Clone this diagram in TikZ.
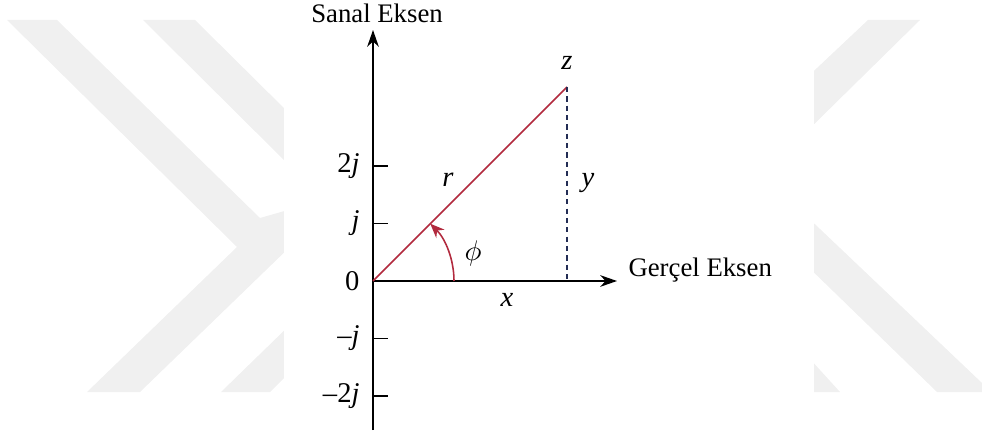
\documentclass[tikz,border=0pt]{standalone}
\usepackage{fontspec}
\setmainfont{Liberation Serif}
\usetikzlibrary{arrows.meta}
\definecolor{vecred}{RGB}{178,42,62}
\definecolor{dashblue}{RGB}{35,45,85}
\definecolor{markgray}{RGB}{240,240,240}
\tikzset{
    axis_line/.style = {
        draw=black,
        line width=0.6pt
    },
    axis_arrow/.style = {
        axis_line,
        -{Stealth[length=6.5pt,width=4.5pt]}
    },
    vector_line/.style = {
        draw=vecred,
        line width=0.6pt
    },
    angle_line/.style = {
        draw=vecred,
        line width=0.6pt,
        -{Stealth[length=5.5pt,width=4.5pt]}
    },
    dash_line/.style = {
        draw=dashblue,
        line width=0.45pt,
        dash pattern=on 2pt off 1.6pt
    },
    tick_line/.style = {
        draw=black,
        line width=0.6pt
    },
    mark_band/.style = {
        fill=markgray,
        draw=none
    },
    axis_label/.style = {
        font=\fontsize{10.3}{12}\selectfont,
        inner sep=0pt
    },
    tick_label/.style = {
        font=\fontsize{11}{13}\selectfont,
        anchor=east,
        inner sep=0pt
    },
}

\begin{document}
\begin{tikzpicture}[x=0.385pt, y=0.385pt]
                \useasboundingbox (0,0) rectangle (982,436);
                % watermark
                \begin{scope}
                    \path[mark_band] (7,416) -- (57,416) -- (260,218) -- (295,228) -- (295,194) -- (140,44) -- (87,44) -- (237,189) -- cycle;
                    \path[mark_band] (143,416) -- (195,416) -- (295,317) -- (295,265) -- cycle;
                    \path[mark_band] (221,44) -- (270,44) -- (295,69) -- (295,116) -- cycle;
                    \path[mark_band] (868,416) -- (920,416) -- (800,298) -- (800,352) -- cycle;
                    \path[mark_band] (800,226) -- (982,53) -- (982,44) -- (937,44) -- (800,177) -- cycle;
                    \path[mark_band] (800,88) -- (840,44) -- (800,44) -- cycle;
                    \fill[white] (284,0) rectangle (814,436);
                \end{scope}

                \coordinate (O) at (373,155);
                \coordinate (im_top) at (373,406);
                \coordinate (im_bot) at (373,6);
                \coordinate (re_end) at (617,155);
                \coordinate (z) at (567,349);
                \coordinate (zx) at (567,155);
                \coordinate (arc_start) at (454,155);

                \draw[axis_arrow] (im_bot) -- (im_top);
                \draw[axis_arrow] (O) -- (re_end);

                \foreach \name/\k/\lab in {tp2/2/2\textit{j}, tp1/1/\textit{j}, tm1/-1/\textendash\textit{j}, tm2/-2/\textendash2\textit{j}} {
                    \draw[tick_line] (373,155+57.5*\k) -- (388,155+57.5*\k);
                    \node[tick_label] (\name) at (360,155+57.5*\k) {\lab};
                }
                \node[tick_label] (t0) at (360,155) {0};

                \draw[vector_line] (O) -- (z);
                \draw[dash_line] (z) -- (zx);
                \draw[angle_line] (arc_start) arc[start angle=0, end angle=45, radius=31.2pt];

                \node[axis_label] (im_lab) at (377,423) {Sanal Eksen};
                \node[axis_label, anchor=west] (re_lab) at (628,166) {Gerçel Eksen};
                \node[tick_label, anchor=center] (z_lab) at (567,373) {\textit{z}};
                \node[tick_label, anchor=center] (r_lab) at (448,256) {\textit{r}};
                \node[tick_label, anchor=center] (y_lab) at (588,253) {\textit{y}};
                \node[tick_label, anchor=center] (x_lab) at (507,136) {\textit{x}};
                \node[tick_label, anchor=center] (phi_lab) at (473,183) {$\phi$};
\end{tikzpicture}
\end{document}
